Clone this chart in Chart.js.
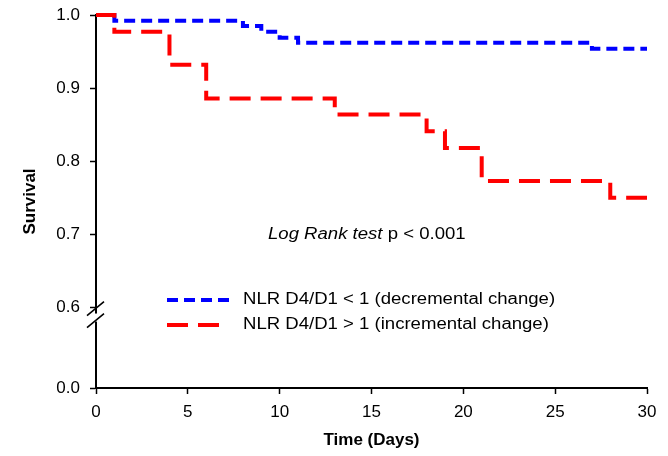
<!DOCTYPE html>
<html>
<head>
<meta charset="utf-8">
<script src="https://cdn.jsdelivr.net/npm/chart.js@4.4.1/dist/chart.umd.min.js"></script>
<style>
  html, body { margin: 0; padding: 0; background: #fff; }
  canvas { display: block; }
</style>
</head>
<body>
<canvas id="chart" width="668" height="456"></canvas>
<script>
// Kaplan-Meier curves (time in days, survival fraction)
const decTimes = [0, 1, 8, 9, 10, 11, 27, 30];
const decSurv  = [1.0, 0.992, 0.985, 0.977, 0.969, 0.962, 0.954, 0.954];
const incTimes = [0, 1, 4, 6, 13, 18, 19, 21, 28, 30];
const incSurv  = [1.0, 0.977, 0.932, 0.886, 0.864, 0.841, 0.818, 0.773, 0.750, 0.750];

const seriesLabels = ['NLR D4/D1 < 1 (decremental change)', 'NLR D4/D1 > 1 (incremental change)'];
const xTicks = [0, 5, 10, 15, 20, 25, 30];
const yTicks = [0.6, 0.7, 0.8, 0.9, 1.0];
const yBreakLabel = '0.0';
const yBreakValue = 0.49; // where "0.0" sits below the axis break

const FONT = '"Liberation Sans", Arial, sans-serif';
const BLUE = '#0000ff';
const RED = '#ff0000';
const STRETCH = 1.16; // the reference text is a bit wide

const toPoints = (xs, ys) => xs.map((x, i) => ({ x: x, y: ys[i] }));

// stretched text helper
function wideText(ctx, text, x, y) {
  ctx.save();
  ctx.translate(x, y);
  ctx.scale(STRETCH, 1);
  ctx.fillText(text, 0, 0);
  ctx.restore();
  return ctx.measureText(text).width * STRETCH;
}

// legend, annotation and axis break drawn on top
const extras = {
  id: 'extras',
  afterDraw(chart) {
    const ctx = chart.ctx;
    const x0 = chart.scales.x.left;
    const yb = chart.scales.y.getPixelForValue(0.6);
    ctx.save();

    // axis break
    ctx.fillStyle = '#fff';
    ctx.fillRect(x0 - 2, yb + 6, 4, 8);
    ctx.strokeStyle = '#000';
    ctx.lineWidth = 1.6;
    ctx.beginPath();
    ctx.moveTo(x0 - 9, yb + 8); ctx.lineTo(x0 + 8, yb - 6);
    ctx.moveTo(x0 - 9, yb + 20); ctx.lineTo(x0 + 8, yb + 6);
    ctx.stroke();

    // legend
    const items = [
      { color: BLUE, dash: [11, 6], len: 62, y: 300, text: seriesLabels[0] },
      { color: RED, dash: [21, 10], len: 52, y: 325, text: seriesLabels[1] }
    ];
    items.forEach(it => {
      ctx.strokeStyle = it.color;
      ctx.lineWidth = 4;
      ctx.setLineDash(it.dash);
      ctx.beginPath();
      ctx.moveTo(167, it.y);
      ctx.lineTo(167 + it.len, it.y);
      ctx.stroke();
      ctx.setLineDash([]);
      ctx.fillStyle = '#000';
      ctx.font = '16px ' + FONT;
      ctx.textBaseline = 'middle';
      ctx.textAlign = 'left';
      wideText(ctx, it.text, 243, it.y);
    });

    // log rank annotation
    ctx.fillStyle = '#000';
    ctx.textBaseline = 'middle';
    ctx.font = 'italic 16px ' + FONT;
    const w = wideText(ctx, 'Log Rank test ', 268, 235);
    ctx.font = '16px ' + FONT;
    wideText(ctx, 'p < 0.001', 268 + w, 235);

    ctx.restore();
  }
};

new Chart(document.getElementById('chart'), {
  type: 'scatter',
  data: {
    datasets: [
      {
        label: seriesLabels[1],
        data: toPoints(incTimes, incSurv),
        showLine: true,
        stepped: 'before',
        borderColor: RED,
        borderWidth: 4,
        borderDash: [21, 10],
        pointRadius: 0,
        clip: false
      },
      {
        label: seriesLabels[0],
        data: toPoints(decTimes, decSurv),
        showLine: true,
        stepped: 'before',
        borderColor: BLUE,
        borderWidth: 4,
        borderDash: [11, 6],
        pointRadius: 0,
        clip: false
      }
    ]
  },
  options: {
    responsive: false,
    animation: false,
    layout: { padding: { left: 0, top: 15, right: 21, bottom: 0 } },
    plugins: {
      legend: { display: false },
      tooltip: { enabled: false }
    },
    scales: {
      x: {
        type: 'linear',
        min: 0,
        max: 30,
        afterBuildTicks: scale => { scale.ticks = xTicks.map(v => ({ value: v })); },
        afterFit: scale => { scale.height = 68; },
        ticks: { color: '#000', font: { family: FONT, size: 17 }, padding: 8, maxRotation: 0 },
        grid: { drawOnChartArea: false, color: '#000', tickLength: 6, tickWidth: 1.5 },
        border: { color: '#000', width: 2 },
        title: {
          display: true,
          text: 'Time (Days)',
          color: '#000',
          font: { family: FONT, size: 17, weight: 'bold' },
          padding: { top: 5, bottom: 5 }
        }
      },
      y: {
        type: 'linear',
        min: yBreakValue,
        max: 1.0,
        afterBuildTicks: scale => {
          scale.ticks = [yBreakValue].concat(yTicks).map(v => ({ value: v }));
        },
        afterFit: scale => {
          scale.width = 96;
          scale.paddingTop = 0;
          scale.paddingBottom = 0;
        },
        ticks: {
          color: '#000',
          font: { family: FONT, size: 17 },
          padding: 10,
          callback: v => (v < 0.55 ? yBreakLabel : v.toFixed(1))
        },
        grid: { drawOnChartArea: false, color: '#000', tickLength: 6, tickWidth: 1.5 },
        border: { color: '#000', width: 2 },
        title: {
          display: true,
          text: 'Survival',
          color: '#000',
          font: { family: FONT, size: 17, weight: 'bold' },
          padding: { top: 20, bottom: 0 }
        }
      }
    }
  },
  plugins: [extras]
});
</script>
</body>
</html>
